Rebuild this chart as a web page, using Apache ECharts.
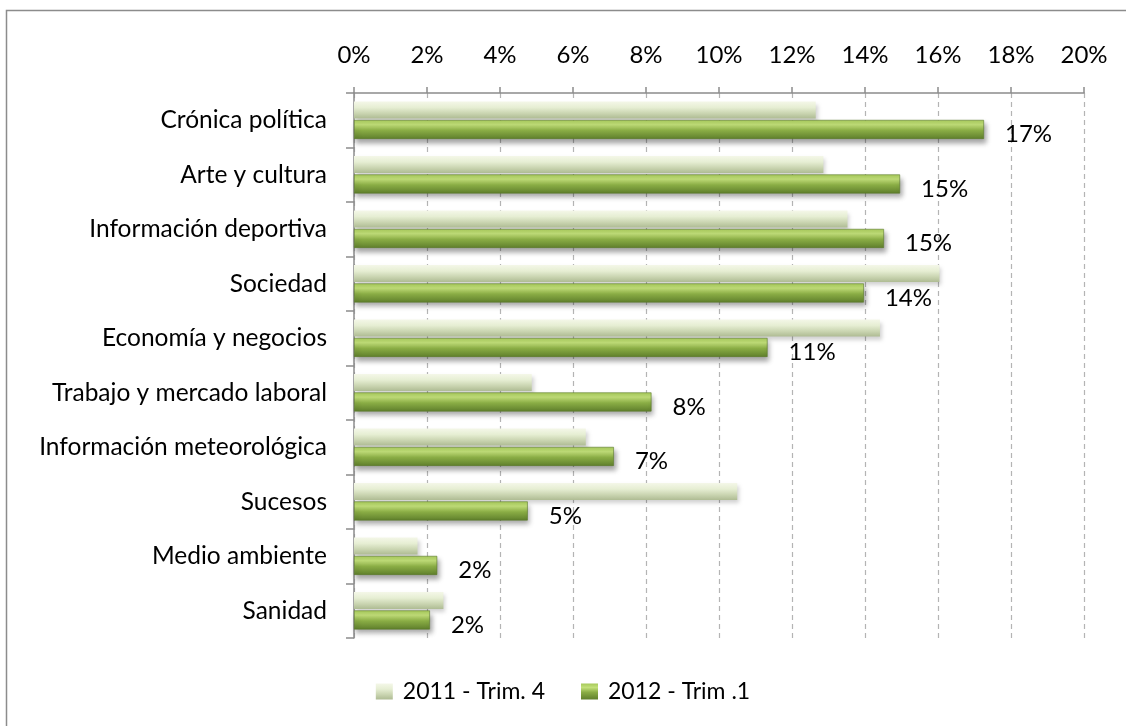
<!DOCTYPE html>
<html>
<head>
<meta charset="utf-8">
<script src="https://cdn.jsdelivr.net/npm/echarts@6/dist/echarts.min.js"></script>
<style>
html,body{margin:0;padding:0;background:#fff;}
#chart{width:1126px;height:726px;}
</style>
</head>
<body>
<div id="chart"></div>
<script>
const categories = ["Crónica política","Arte y cultura","Información deportiva","Sociedad","Economía y negocios","Trabajo y mercado laboral","Información meteorológica","Sucesos","Medio ambiente","Sanidad"];
const seriesNames = ["2011 - Trim. 4","2012 - Trim .1"];
const values2011 = [12.65, 12.86, 13.52, 16.04, 14.41, 4.87, 6.35, 10.50, 1.74, 2.45];
const values2012 = [17.26, 14.96, 14.52, 13.97, 11.33, 8.15, 7.12, 4.76, 2.28, 2.08];
const xTicks = [0,2,4,6,8,10,12,14,16,18,20];

const FONT = "Lato";
const lightGrad = new echarts.graphic.LinearGradient(0,0,0,1,[
  {offset:0,color:'#f4f7e8'},{offset:0.35,color:'#e6eed3'},{offset:0.7,color:'#c9d4b0'},{offset:1,color:'#aebb93'}]);
const greenGrad = new echarts.graphic.LinearGradient(0,0,0,1,[
  {offset:0,color:'#a6c95a'},{offset:0.25,color:'#c3e07a'},{offset:0.55,color:'#8aad45'},{offset:1,color:'#5f7f2c'}]);

const chart = echarts.init(document.getElementById('chart'));
chart.setOption({
  backgroundColor:'#fff',
  animation:false,
  graphic:[{type:'polyline',shape:{points:[[6.5,730],[6.5,10.5],[1130,10.5]]},style:{stroke:'#8c8c8c',lineWidth:1.5,fill:null}}],
  grid:{left:354,right:42,top:93,bottom:88,containLabel:false},
  legend:{
    bottom:18,left:'center',itemWidth:17,itemHeight:16,itemGap:36,
    textStyle:{fontFamily:FONT,fontSize:23,color:'#000',padding:[0,0,0,5]},
    itemStyle:{borderWidth:0},
    data:[{name:seriesNames[0],icon:'rect'},{name:seriesNames[1],icon:'rect'}]
  },
  xAxis:{
    type:'value',position:'top',min:0,max:20,interval:2,
    axisLine:{show:true,lineStyle:{color:'#8c8c8c',width:1.5}},
    axisTick:{show:true,inside:false,length:6,lineStyle:{color:'#8c8c8c',width:1.5}},
    axisLabel:{margin:26,formatter:'{value}%',fontFamily:FONT,fontSize:24,color:'#000'},
    splitLine:{show:true,lineStyle:{color:'#b4b4b4',type:[5,4],width:1.2}}
  },
  yAxis:{
    type:'category',inverse:true,data:categories,
    axisLine:{show:true,lineStyle:{color:'#8c8c8c',width:1.5}},
    axisTick:{show:true,length:8,lineStyle:{color:'#8c8c8c',width:1.5}},
    axisLabel:{margin:27,fontFamily:FONT,fontSize:24.5,color:'#000',padding:[6,0,0,0]}
  },
  series:[
    {name:seriesNames[0],type:'bar',data:values2011,barWidth:17,barGap:'8%',
      itemStyle:{color:lightGrad,shadowColor:'rgba(0,0,0,0.18)',shadowBlur:4,shadowOffsetX:2,shadowOffsetY:3}},
    {name:seriesNames[1],type:'bar',data:values2012,barWidth:19,
      itemStyle:{color:greenGrad,borderColor:'#5a7a2a',borderWidth:0.6,shadowColor:'rgba(0,0,0,0.35)',shadowBlur:5,shadowOffsetX:2,shadowOffsetY:4},
      label:{show:true,position:'right',distance:21,offset:[0,5],fontFamily:FONT,fontSize:24,color:'#000',
        formatter:p=>Math.round(p.value)+'%'}}
  ]
});
</script>
</body>
</html>
